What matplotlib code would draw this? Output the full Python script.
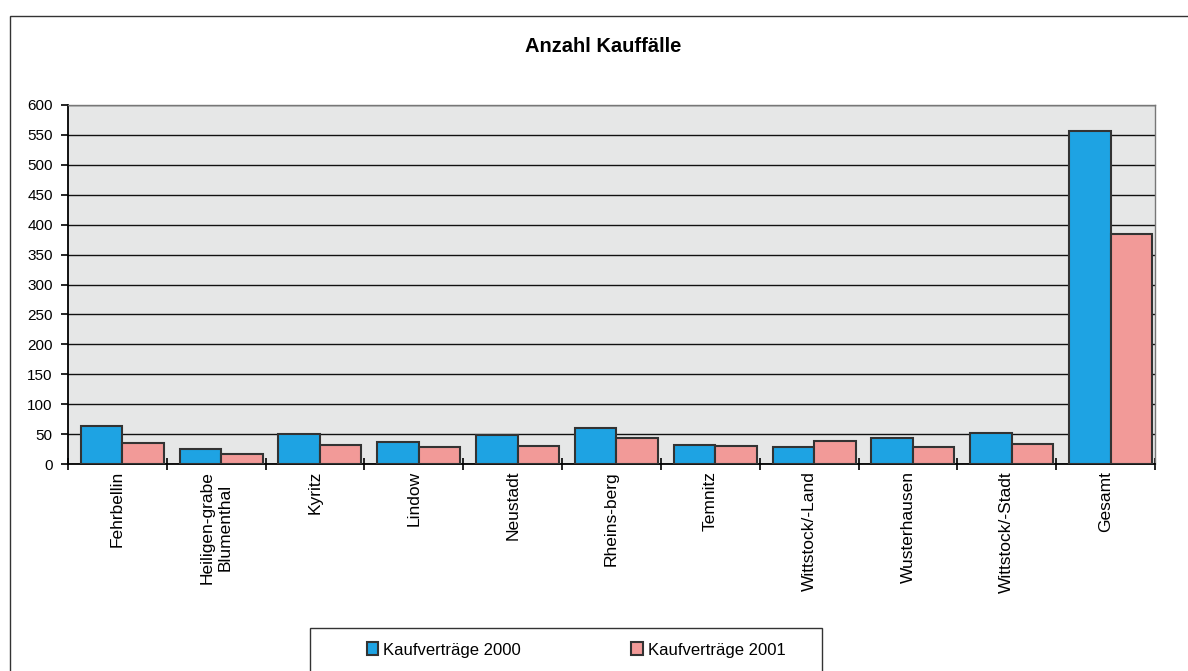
import matplotlib.pyplot as plt
import numpy as np
from matplotlib.patches import Rectangle

# Data
categories = ["Fehrbellin", "Heiligen-grabe\nBlumenthal", "Kyritz", "Lindow", "Neustadt",
              "Rheins-berg", "Temnitz", "Wittstock/-Land", "Wusterhausen",
              "Wittstock/-Stadt", "Gesamt"]
vertraege_2000 = [63, 25, 50, 37, 48, 60, 32, 28, 43, 52, 556]
vertraege_2001 = [35, 17, 32, 28, 30, 43, 30, 38, 28, 33, 384]

plt.rcParams["font.family"] = ["Liberation Sans", "DejaVu Sans"]

fig = plt.figure(figsize=(11.88, 6.71), dpi=100)
ax = fig.add_axes([68 / 1188, 1 - 464 / 671, (1155 - 68) / 1188, (464 - 105) / 671])

# outer chart border (cut off at right and bottom like the scan)
fig.patches.append(Rectangle((10 / 1188, -0.2), 1.5, 1.2 - 16 / 671,
                             transform=fig.transFigure, fill=False,
                             edgecolor="#333333", linewidth=1.0))

x = np.arange(len(categories))
w = 0.42
ax.bar(x - w / 2 + 0.05, vertraege_2000, w, color="#1ea3e3", edgecolor="#333333",
       linewidth=1.5, label="Kaufverträge 2000", zorder=3)
ax.bar(x + w / 2 + 0.05, vertraege_2001, w, color="#f29a98", edgecolor="#333333",
       linewidth=1.5, label="Kaufverträge 2001", zorder=3)

ax.set_facecolor("#e6e7e7")
ax.set_xlim(-0.5, len(categories) - 0.5)
ax.set_ylim(0, 600)
ax.set_yticks(np.arange(0, 601, 50))
ax.yaxis.grid(True, color="#111111", linewidth=1.0, zorder=1)
ax.set_axisbelow(True)

# category labels between boundary ticks (Excel style)
ax.set_xticks(np.arange(len(categories) + 1) - 0.5)
ax.set_xticklabels([])
ax.set_xticks(x, minor=True)
ax.set_xticklabels(categories, minor=True, rotation=90, va="top", ha="center", fontsize=12.5)
ax.tick_params(axis="x", which="minor", length=0, pad=5)
ax.tick_params(axis="x", which="major", direction="inout", length=8, width=1.2)
ax.tick_params(axis="y", direction="out", length=5, width=1.2, labelsize=11, pad=6)

for s in ["top", "right"]:
    ax.spines[s].set_color("#777777")
    ax.spines[s].set_linestyle((0, (4, 1)))
    ax.spines[s].set_linewidth(1.0)
ax.spines["left"].set_linewidth(1.3)
ax.spines["bottom"].set_linewidth(1.3)

fig.text(603 / 1188, 1 - 47 / 671, "Anzahl Kauffälle", ha="center", va="center",
         fontsize=14.5, fontweight="bold")

# legend box (bottom cut off)
fig.patches.append(Rectangle((310 / 1188, -0.05), (822 - 310) / 1188, 0.05 + 1 - 628 / 671,
                             transform=fig.transFigure, fill=False,
                             edgecolor="#333333", linewidth=1.0))
handles, labels = ax.get_legend_handles_labels()
fig.legend(handles, labels, loc="center", bbox_to_anchor=(576 / 1188, 1 - 650 / 671),
           ncol=2, frameon=False, fontsize=12, columnspacing=6.6,
           handlelength=0.7, handleheight=0.8, handletextpad=0.3)

fig.savefig("out.png", dpi=100)
